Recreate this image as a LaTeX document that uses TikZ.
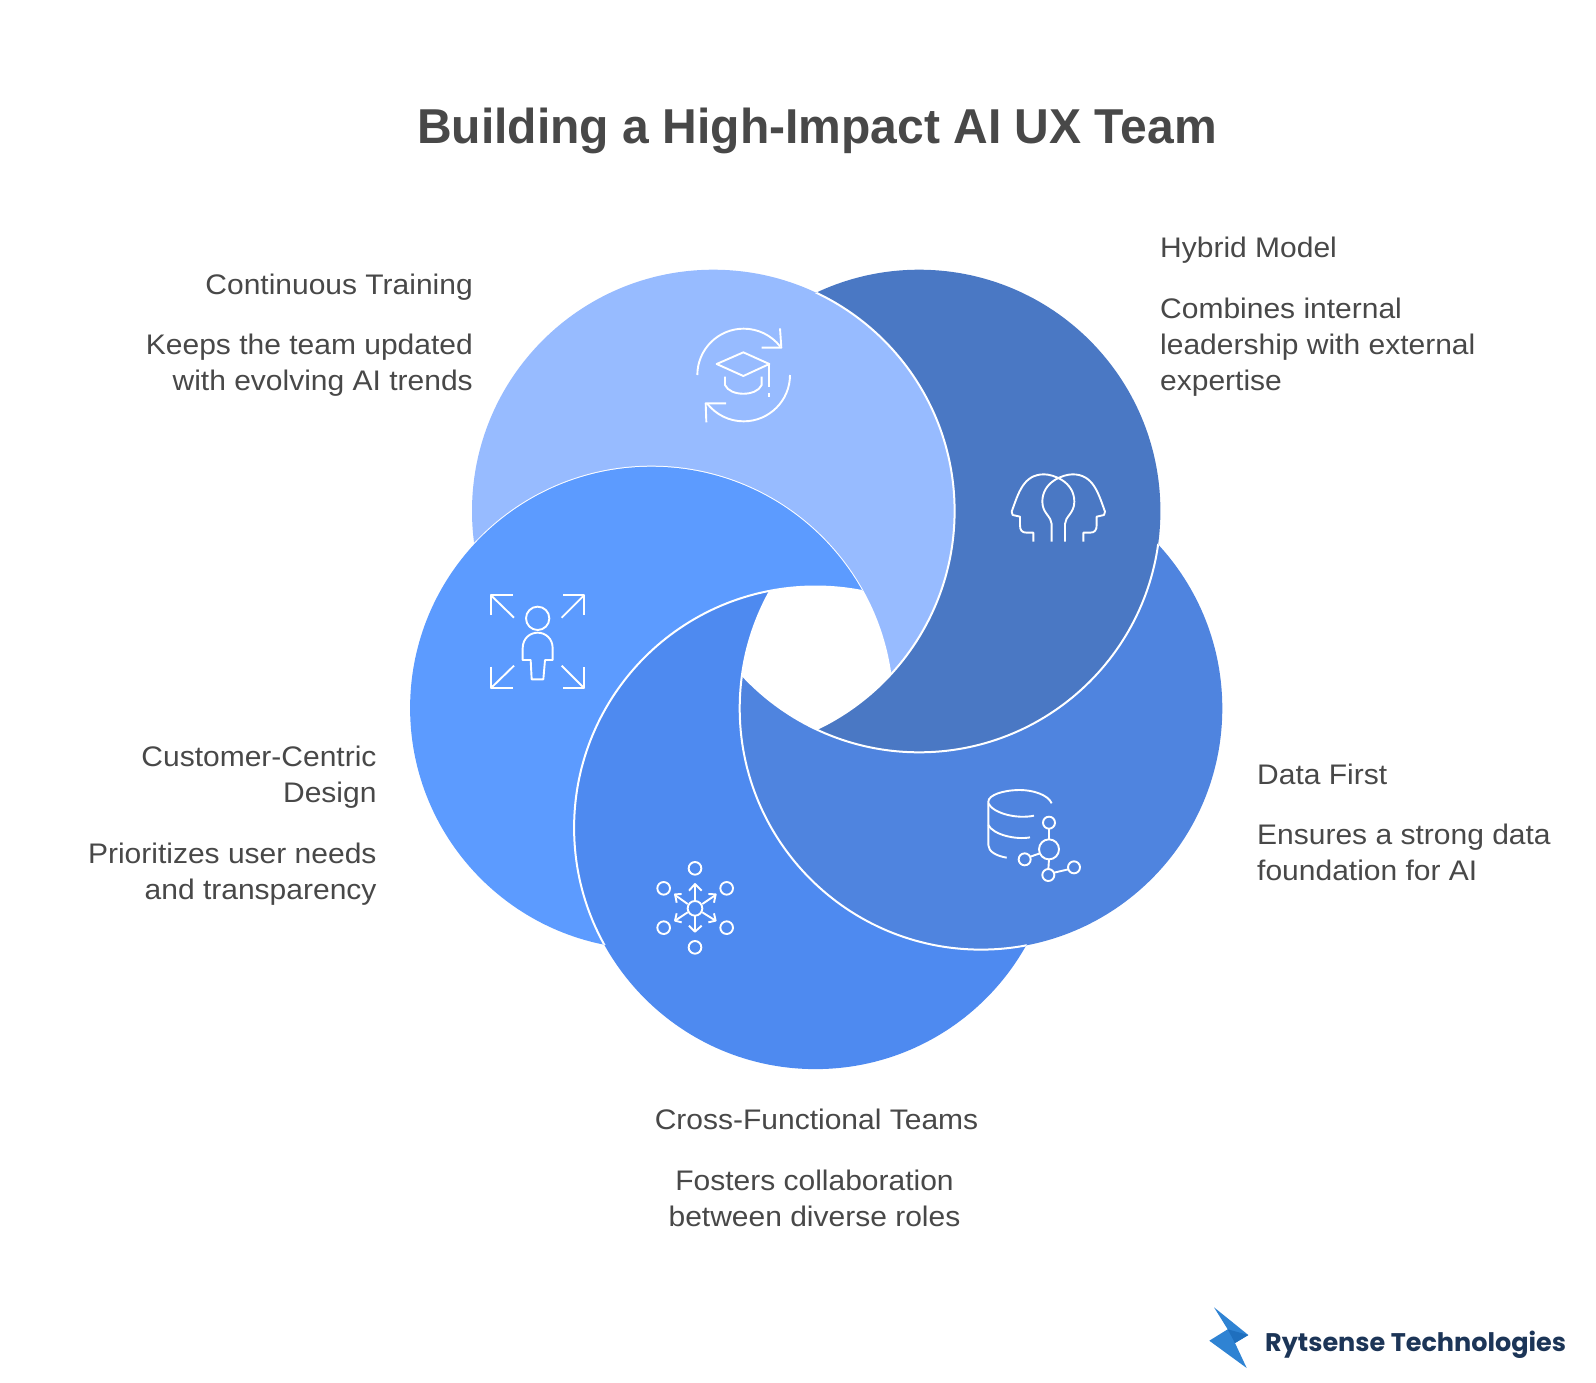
\documentclass[tikz,border=0pt]{standalone}
\usepackage{fontspec}
\setmainfont[FakeStretch=1.06]{Liberation Sans}
\newfontfamily\titlefont[FakeStretch=0.98]{Liberation Sans}
\newfontfamily\logofont{Poppins}
\usepackage{tikz}

\definecolor{trainblue}{HTML}{97BBFF}
\definecolor{hybridblue}{HTML}{4A78C4}
\definecolor{datablue}{HTML}{4F84DF}
\definecolor{crossblue}{HTML}{4E8AF0}
\definecolor{customerblue}{HTML}{5C9BFF}
\definecolor{textgray}{HTML}{484848}
\definecolor{logoblue}{HTML}{2F83D3}
\definecolor{logodark}{HTML}{1F6FBE}
\definecolor{logonavy}{HTML}{1C3557}

\tikzset{
  heading/.style={inner sep=0pt,text=textgray,font=\titlefont\bfseries\fontsize{49}{56}\selectfont},
  caption/.style={inner sep=0pt,text=textgray,font=\fontsize{28.3}{36.1}\selectfont},
  seam/.style={draw=white,line width=2pt},
  icon/.style={draw=white,line width=1.9pt,line join=round}
}

\begin{document}
\begin{tikzpicture}[x=1pt,y=-1pt]
\useasboundingbox (0,0) rectangle (1596,1382);

\coordinate (train) at (713.3,511);
\coordinate (hybrid) at (919.1,511);
\coordinate (data) at (981,708.3);
\coordinate (cross) at (815.4,827.8);
\coordinate (customer) at (651.4,708);

\begin{scope}
\clip (train) circle (241.3);
\fill[trainblue,even odd rule] (0,0) rectangle (1596,1382) (customer) circle (241.3);
\draw[seam] (customer) circle (241.3);
\end{scope}

\begin{scope}
\clip (hybrid) circle (241.3);
\fill[hybridblue,even odd rule] (0,0) rectangle (1596,1382) (train) circle (241.3);
\draw[seam] (train) circle (241.3);
\end{scope}

\begin{scope}
\clip (data) circle (241.3);
\fill[datablue,even odd rule] (0,0) rectangle (1596,1382) (hybrid) circle (241.3);
\draw[seam] (hybrid) circle (241.3);
\end{scope}

\begin{scope}
\clip (cross) circle (241.3);
\fill[crossblue,even odd rule] (0,0) rectangle (1596,1382) (data) circle (241.3);
\draw[seam] (data) circle (241.3);
\end{scope}

\begin{scope}
\clip (customer) circle (241.3);
\fill[customerblue,even odd rule] (0,0) rectangle (1596,1382) (cross) circle (241.3);
\draw[seam] (cross) circle (241.3);
\end{scope}

\begin{scope}[shift={(640,300)},scale=1/3]
\draw[icon] (172,225) arc (180:322:139);
\draw[icon] (420,85) -- (424,143) -- (365,143);
\draw[icon] (450,225) arc (0:142:139);
\draw[icon] (199,367) -- (197,310) -- (258,310);
\draw[icon] (230,192) -- (310,157) -- (388,192) -- (310,228) -- cycle;
\draw[icon] (255,230) -- (255,255) .. controls (270,290) and (350,290) .. (365,255) -- (365,230);
\draw[icon] (388,192) -- (388,262);
\draw[icon] (388,280) -- (388,290);

\draw[icon] (1180,725) -- (1180,698) -- (1160,698) .. controls (1145,698) and (1140,690) .. (1140,675) -- (1140,650) -- (1118,645) -- (1115,635) .. controls (1135,580) and (1150,523) .. (1212,523) .. controls (1240,523) and (1303,545) .. (1303,605) .. controls (1303,640) and (1275,650) .. (1275,672) -- (1275,725);
\draw[icon] (1330,725) -- (1330,698) -- (1350,698) .. controls (1365,698) and (1370,690) .. (1370,675) -- (1370,650) -- (1392,645) -- (1395,635) .. controls (1375,580) and (1360,523) .. (1298,523) .. controls (1270,523) and (1207,545) .. (1207,605) .. controls (1207,640) and (1235,650) .. (1235,672) -- (1235,725);
\end{scope}

\begin{scope}[shift={(460,580)},scale=1/3]
\draw[icon] (92,105) -- (92,45) -- (158,45);
\draw[icon] (92,45) -- (162,113);
\draw[icon] (310,45) -- (373,45) -- (373,105);
\draw[icon] (373,45) -- (305,113);
\draw[icon] (92,260) -- (92,325) -- (158,325);
\draw[icon] (92,325) -- (162,257);
\draw[icon] (310,325) -- (373,325) -- (373,260);
\draw[icon] (373,325) -- (305,257);
\draw[icon] (233,115) circle (35);
\draw[icon] (188,240) -- (188,205) .. controls (188,175) and (210,158) .. (233,158) .. controls (256,158) and (278,175) .. (278,205) -- (278,240) -- (255,240) -- (250,298) -- (215,298) -- (212,240) -- cycle;

\draw[icon] (705,985) circle (22);
\draw[icon] (705,865) circle (19);
\draw[icon] (800,925) circle (19);
\draw[icon] (800,1043) circle (19);
\draw[icon] (705,1102) circle (19);
\draw[icon] (611,1043) circle (19);
\draw[icon] (611,925) circle (19);
\draw[icon] (705,963) -- (705,912);
\draw[icon] (687,932) -- (705,912) -- (725,932);
\draw[icon] (705,1007) -- (705,1055);
\draw[icon] (687,1037) -- (705,1055) -- (725,1037);
\draw[icon] (727,972) -- (767,945);
\draw[icon] (745,942) -- (767,943) -- (762,968);
\draw[icon] (683,972) -- (645,945);
\draw[icon] (665,942) -- (645,943) -- (650,968);
\draw[icon] (727,997) -- (767,1022);
\draw[icon] (762,1000) -- (767,1022) -- (745,1027);
\draw[icon] (683,997) -- (645,1022);
\draw[icon] (650,1000) -- (645,1022) -- (665,1027);
\end{scope}

\begin{scope}[shift={(960,770)},scale=1/3]
\draw[icon] (275,100) .. controls (265,75) and (220,60) .. (180,60) .. controls (130,60) and (85,75) .. (85,95) -- (85,225) .. controls (85,245) and (110,258) .. (140,263);
\draw[icon] (85,100) .. controls (100,130) and (170,148) .. (222,137);
\draw[icon] (85,165) .. controls (100,195) and (170,210) .. (210,202);
\draw[icon] (267,238) circle (30);
\draw[icon] (267,158) circle (18);
\draw[icon] (194,268) circle (18);
\draw[icon] (265,315) circle (18);
\draw[icon] (342,292) circle (18);
\draw[icon] (267,176) -- (267,208);
\draw[icon] (211,260) -- (240,250);
\draw[icon] (267,268) -- (265,297);
\draw[icon] (282,308) -- (325,298);
\end{scope}

\node[heading] (title) at (817,131) {Building a High-Impact AI UX Team};

\node[caption,anchor=east] (trainhead) at (473,287) {Continuous Training};
\node[caption,anchor=east,align=right] (trainbody) at (473,365.5) {Keeps the team updated\\with evolving AI trends};

\node[caption,anchor=west] (hybridhead) at (1160,250) {Hybrid Model};
\node[caption,anchor=west,align=left] (hybridbody) at (1160,347.5) {Combines internal\\leadership with external\\expertise};

\node[caption,anchor=west] (datahead) at (1257,774) {Data First};
\node[caption,anchor=west,align=left] (databody) at (1257,852.5) {Ensures a strong data\\foundation for AI};

\node[caption,anchor=center,align=center] (crosshead) at (816.5,1119) {Cross-Functional Teams};
\node[caption,anchor=center,align=center] (crossbody) at (814.5,1198) {Fosters collaboration\\between diverse roles};

\node[caption,anchor=east,align=right] (customerhead) at (376.7,777.5) {Customer-Centric\\Design};
\node[caption,anchor=east,align=right] (customerbody) at (376.7,874.5) {Prioritizes user needs\\and transparency};

\fill[logoblue] (1214,1307.3) -- (1248.3,1335) -- (1235,1343) -- (1246.7,1368) -- (1209.3,1340.7) -- (1227.7,1329.3) -- cycle;
\fill[logodark] (1227.7,1329.3) -- (1248.3,1335) -- (1235,1343) -- cycle;
\node[anchor=base west,inner sep=0pt,text=logonavy,font=\logofont\bfseries\fontsize{25.5}{30}\selectfont] (logotext) at (1265,1351) {Rytsense Technologies};
\end{tikzpicture}
\end{document}
